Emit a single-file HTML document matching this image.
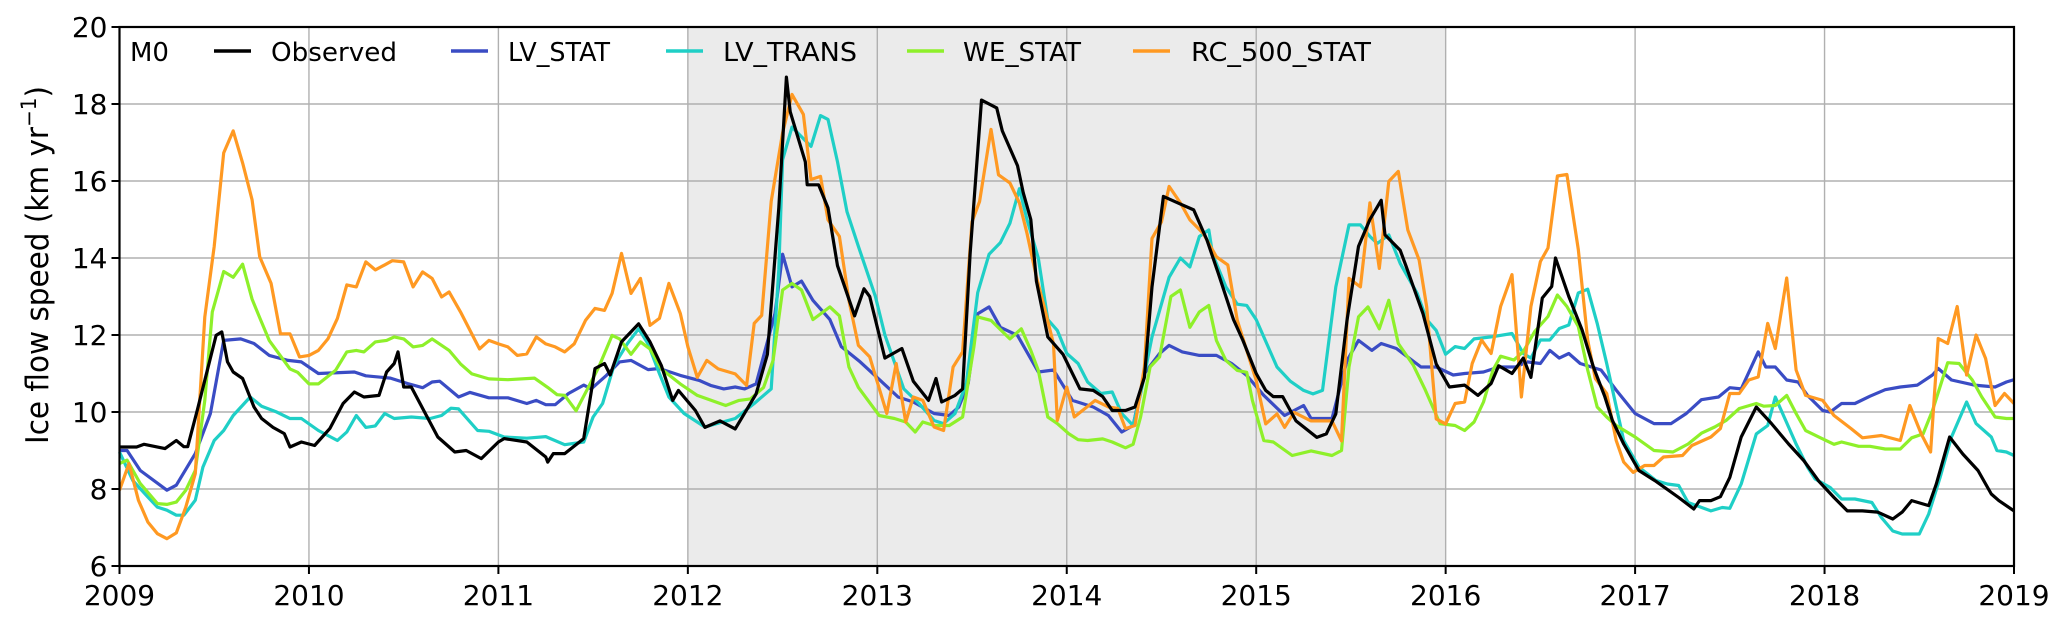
<!DOCTYPE html>
<html><head><meta charset="utf-8"><style>
html,body{margin:0;padding:0;background:#fff;}
svg{display:block;font-family:"DejaVu Sans","Liberation Sans",sans-serif;}
</style></head><body>
<svg id="chart" width="2067" height="623" viewBox="0 0 2067 623" xmlns="http://www.w3.org/2000/svg">
<rect x="0" y="0" width="2067" height="623" fill="#fff"/>
<g id="shade"></g><g id="grid"></g><g id="series"></g><g id="axes"></g><g id="legend"></g>
</svg>
<script>
const yearTicks=[2009,2010,2011,2012,2013,2014,2015,2016,2017,2018,2019];
const valueTicks=[6,8,10,12,14,16,18,20];
const shadeRange=[2012,2016];
const obsT=[2009.0,2009.09,2009.13,2009.24,2009.30,2009.34,2009.36,2009.41,2009.51,2009.54,2009.57,2009.60,2009.65,2009.71,2009.75,2009.81,2009.87,2009.90,2009.96,2010.03,2010.11,2010.18,2010.24,2010.29,2010.37,2010.41,2010.45,2010.47,2010.50,2010.54,2010.62,2010.68,2010.77,2010.83,2010.91,2011.0,2011.03,2011.15,2011.25,2011.26,2011.29,2011.35,2011.45,2011.51,2011.56,2011.59,2011.65,2011.74,2011.80,2011.86,2011.92,2011.95,2012.04,2012.09,2012.17,2012.25,2012.36,2012.42,2012.48,2012.52,2012.54,2012.62,2012.63,2012.69,2012.74,2012.79,2012.88,2012.93,2012.96,2013.04,2013.13,2013.19,2013.27,2013.31,2013.34,2013.41,2013.45,2013.49,2013.55,2013.63,2013.66,2013.74,2013.77,2013.81,2013.84,2013.90,2013.98,2014.07,2014.14,2014.19,2014.24,2014.31,2014.36,2014.41,2014.45,2014.51,2014.60,2014.67,2014.74,2014.80,2014.88,2014.93,2015.0,2015.05,2015.09,2015.14,2015.21,2015.32,2015.37,2015.42,2015.48,2015.54,2015.60,2015.66,2015.68,2015.76,2015.79,2015.83,2015.88,2015.95,2016.02,2016.10,2016.17,2016.24,2016.28,2016.35,2016.41,2016.45,2016.51,2016.56,2016.58,2016.65,2016.72,2016.78,2016.84,2016.88,2016.94,2017.02,2017.11,2017.23,2017.31,2017.34,2017.40,2017.45,2017.50,2017.56,2017.64,2017.72,2017.81,2017.89,2017.97,2018.05,2018.12,2018.20,2018.28,2018.36,2018.41,2018.46,2018.55,2018.59,2018.66,2018.73,2018.81,2018.88,2018.92,2019.0];
const obsV=[9.09,9.09,9.16,9.05,9.26,9.1,9.1,10.04,11.99,12.08,11.3,11.04,10.87,10.13,9.83,9.6,9.44,9.09,9.22,9.13,9.57,10.22,10.52,10.39,10.43,11.04,11.26,11.56,10.65,10.65,9.91,9.35,8.96,9.0,8.79,9.22,9.31,9.22,8.83,8.7,8.92,8.92,9.31,11.13,11.26,10.96,11.82,12.29,11.82,11.21,10.3,10.56,10.04,9.6,9.77,9.56,10.47,11.5,15.3,18.7,17.8,16.5,15.9,15.9,15.3,13.8,12.5,13.2,13.0,11.4,11.65,10.8,10.3,10.87,10.26,10.43,10.6,14.1,18.1,17.9,17.3,16.4,15.7,15.0,13.4,11.95,11.5,10.6,10.56,10.4,10.04,10.04,10.13,10.9,13.25,15.6,15.4,15.25,14.47,13.6,12.4,11.86,11.0,10.56,10.4,10.4,9.77,9.34,9.43,9.95,12.4,14.3,15.0,15.5,14.6,14.2,13.8,13.25,12.56,11.25,10.65,10.7,10.43,10.74,11.2,11.0,11.4,10.9,12.96,13.26,14.0,13.0,12.13,11.17,10.4,9.78,9.17,8.48,8.2,7.78,7.48,7.7,7.7,7.8,8.3,9.35,10.13,9.7,9.17,8.74,8.2,7.78,7.43,7.43,7.4,7.22,7.4,7.7,7.57,8.13,9.35,8.91,8.48,7.87,7.7,7.43];
const lvsT=[2009.0,2009.04,2009.11,2009.25,2009.30,2009.40,2009.48,2009.55,2009.64,2009.71,2009.79,2009.89,2009.96,2010.05,2010.24,2010.30,2010.43,2010.52,2010.60,2010.65,2010.69,2010.79,2010.85,2010.95,2011.05,2011.15,2011.20,2011.25,2011.30,2011.37,2011.45,2011.49,2011.57,2011.64,2011.70,2011.79,2011.85,2011.96,2012.06,2012.12,2012.19,2012.25,2012.30,2012.36,2012.46,2012.50,2012.55,2012.60,2012.66,2012.75,2012.81,2012.91,2013.02,2013.11,2013.19,2013.30,2013.38,2013.43,2013.48,2013.53,2013.59,2013.65,2013.74,2013.85,2013.93,2014.03,2014.14,2014.22,2014.29,2014.35,2014.41,2014.49,2014.54,2014.61,2014.70,2014.79,2014.87,2014.95,2015.04,2015.15,2015.25,2015.29,2015.40,2015.48,2015.54,2015.61,2015.66,2015.74,2015.87,2015.95,2016.04,2016.10,2016.20,2016.28,2016.37,2016.43,2016.50,2016.55,2016.60,2016.65,2016.71,2016.82,2016.90,2017.0,2017.10,2017.19,2017.27,2017.35,2017.44,2017.50,2017.56,2017.65,2017.69,2017.74,2017.80,2017.86,2017.91,2017.99,2018.03,2018.09,2018.16,2018.24,2018.32,2018.40,2018.49,2018.57,2018.60,2018.67,2018.79,2018.90,2018.96,2019.0];
const lvsV=[9.0,9.0,8.48,7.97,8.1,8.92,9.96,11.86,11.9,11.78,11.47,11.34,11.3,11.0,11.04,10.94,10.88,10.74,10.63,10.78,10.8,10.39,10.51,10.37,10.37,10.22,10.3,10.19,10.19,10.48,10.7,10.6,10.95,11.3,11.34,11.1,11.13,10.95,10.82,10.69,10.6,10.65,10.6,10.73,12.56,14.1,13.25,13.4,12.9,12.4,11.7,11.3,10.8,10.39,10.26,9.96,9.91,10.13,10.74,12.55,12.73,12.2,11.99,11.04,11.09,10.3,10.13,9.91,9.48,9.65,11.0,11.52,11.73,11.56,11.47,11.47,11.26,10.95,10.43,9.91,10.17,9.83,9.83,11.34,11.86,11.6,11.78,11.65,11.17,11.17,10.96,11.0,11.04,11.17,11.17,11.3,11.26,11.6,11.4,11.52,11.26,11.09,10.57,9.96,9.7,9.7,9.96,10.32,10.39,10.63,10.6,11.56,11.17,11.17,10.83,10.78,10.43,10.04,10.0,10.22,10.22,10.41,10.58,10.65,10.7,10.96,11.13,10.83,10.7,10.65,10.78,10.84];
const lvtT=[2009.0,2009.07,2009.15,2009.20,2009.25,2009.30,2009.34,2009.40,2009.44,2009.50,2009.55,2009.60,2009.69,2009.75,2009.83,2009.90,2009.96,2010.05,2010.15,2010.20,2010.25,2010.30,2010.35,2010.40,2010.45,2010.54,2010.64,2010.70,2010.75,2010.79,2010.89,2010.95,2011.03,2011.15,2011.25,2011.35,2011.45,2011.50,2011.55,2011.61,2011.68,2011.74,2011.79,2011.85,2011.90,2011.98,2012.09,2012.25,2012.35,2012.44,2012.48,2012.50,2012.55,2012.65,2012.70,2012.74,2012.79,2012.84,2012.90,2012.99,2013.04,2013.14,2013.22,2013.30,2013.35,2013.41,2013.47,2013.53,2013.59,2013.65,2013.70,2013.75,2013.79,2013.85,2013.90,2013.95,2014.0,2014.06,2014.11,2014.18,2014.24,2014.29,2014.35,2014.39,2014.45,2014.54,2014.60,2014.65,2014.70,2014.75,2014.77,2014.84,2014.90,2014.95,2015.0,2015.11,2015.18,2015.25,2015.30,2015.35,2015.42,2015.49,2015.55,2015.60,2015.64,2015.70,2015.76,2015.85,2015.90,2015.95,2016.0,2016.05,2016.10,2016.15,2016.24,2016.35,2016.41,2016.45,2016.50,2016.55,2016.60,2016.65,2016.70,2016.75,2016.80,2016.85,2016.94,2017.02,2017.11,2017.17,2017.23,2017.28,2017.40,2017.46,2017.50,2017.56,2017.64,2017.70,2017.74,2017.85,2017.91,2017.95,2018.03,2018.09,2018.16,2018.25,2018.30,2018.36,2018.41,2018.50,2018.55,2018.61,2018.67,2018.75,2018.80,2018.88,2018.91,2018.96,2019.0];
const lvtV=[8.96,8.22,7.79,7.53,7.45,7.32,7.32,7.71,8.57,9.26,9.52,9.91,10.39,10.15,10.0,9.83,9.83,9.52,9.26,9.48,9.91,9.6,9.64,9.96,9.83,9.87,9.83,9.91,10.1,10.08,9.52,9.5,9.35,9.32,9.36,9.15,9.22,9.87,10.22,11.21,11.77,12.16,11.77,11.0,10.39,9.96,9.61,9.83,10.22,10.6,13.7,16.55,17.4,16.9,17.7,17.6,16.5,15.2,14.3,13.0,12.0,10.6,10.22,9.78,9.7,9.96,10.74,13.1,14.1,14.4,14.9,15.8,15.0,14.0,12.4,12.12,11.52,11.26,10.78,10.48,10.52,9.96,9.65,10.47,11.95,13.5,14.0,13.77,14.56,14.73,14.1,13.25,12.8,12.77,12.4,11.17,10.8,10.56,10.47,10.56,13.25,14.86,14.86,14.56,14.38,14.6,13.86,13.08,12.4,12.12,11.5,11.7,11.65,11.9,11.95,12.04,11.52,11.4,11.87,11.87,12.17,12.26,13.09,13.19,12.3,11.26,9.26,8.57,8.22,8.13,8.09,7.65,7.43,7.52,7.5,8.13,9.43,9.65,10.39,9.17,8.57,8.26,8.04,7.74,7.74,7.65,7.26,6.91,6.83,6.83,7.35,8.3,9.35,10.26,9.7,9.35,9.0,8.96,8.87];
const weT=[2009.0,2009.04,2009.11,2009.20,2009.25,2009.30,2009.35,2009.40,2009.45,2009.49,2009.55,2009.60,2009.65,2009.70,2009.74,2009.79,2009.90,2009.94,2010.0,2010.05,2010.14,2010.20,2010.25,2010.29,2010.35,2010.41,2010.45,2010.50,2010.55,2010.60,2010.65,2010.74,2010.80,2010.86,2010.95,2011.05,2011.19,2011.26,2011.31,2011.35,2011.41,2011.46,2011.53,2011.60,2011.64,2011.70,2011.75,2011.80,2011.86,2011.96,2012.05,2012.20,2012.27,2012.33,2012.40,2012.45,2012.50,2012.55,2012.60,2012.66,2012.75,2012.80,2012.85,2012.90,2013.01,2013.09,2013.15,2013.20,2013.24,2013.30,2013.38,2013.45,2013.51,2013.53,2013.60,2013.70,2013.76,2013.81,2013.85,2013.90,2013.95,2014.01,2014.06,2014.11,2014.19,2014.24,2014.31,2014.35,2014.39,2014.44,2014.49,2014.55,2014.60,2014.65,2014.70,2014.75,2014.79,2014.84,2014.90,2014.95,2014.98,2015.04,2015.09,2015.19,2015.29,2015.40,2015.45,2015.49,2015.54,2015.59,2015.65,2015.70,2015.75,2015.83,2015.89,2015.97,2016.05,2016.10,2016.15,2016.20,2016.25,2016.29,2016.36,2016.41,2016.47,2016.54,2016.59,2016.64,2016.70,2016.75,2016.80,2016.85,2016.90,2017.0,2017.10,2017.20,2017.28,2017.35,2017.42,2017.48,2017.55,2017.64,2017.68,2017.74,2017.80,2017.85,2017.90,2017.97,2018.05,2018.09,2018.18,2018.24,2018.32,2018.40,2018.46,2018.52,2018.57,2018.65,2018.71,2018.78,2018.83,2018.90,2018.96,2019.0];
const weV=[8.66,8.75,8.14,7.62,7.6,7.66,7.97,8.48,10.3,12.6,13.65,13.5,13.84,12.93,12.45,11.86,11.12,11.03,10.73,10.73,11.08,11.56,11.6,11.56,11.82,11.86,11.95,11.9,11.69,11.73,11.9,11.6,11.25,10.99,10.86,10.84,10.88,10.64,10.45,10.43,10.03,10.5,11.17,11.99,11.9,11.5,11.82,11.64,11.12,10.73,10.43,10.17,10.3,10.34,10.64,11.34,13.17,13.34,13.17,12.4,12.73,12.5,11.17,10.64,9.91,9.83,9.74,9.48,9.74,9.65,9.65,9.87,11.69,12.47,12.38,11.9,12.16,11.6,11.08,9.87,9.7,9.44,9.28,9.26,9.3,9.22,9.07,9.16,9.87,11.17,11.43,13.0,13.17,12.2,12.6,12.77,11.86,11.34,11.08,11.03,10.3,9.26,9.22,8.87,8.99,8.87,9.0,11.17,12.47,12.73,12.16,12.9,11.78,11.21,10.6,9.7,9.65,9.52,9.74,10.26,11.09,11.45,11.35,11.57,12.09,12.48,13.04,12.74,12.22,11.09,10.13,9.87,9.65,9.35,9.0,8.96,9.17,9.45,9.61,9.78,10.09,10.22,10.15,10.17,10.43,9.96,9.52,9.35,9.16,9.22,9.11,9.11,9.04,9.04,9.33,9.43,10.04,11.28,11.26,10.83,10.39,9.87,9.83,9.83];
const rcT=[2009.0,2009.05,2009.10,2009.15,2009.20,2009.25,2009.30,2009.35,2009.40,2009.45,2009.50,2009.55,2009.60,2009.65,2009.70,2009.74,2009.80,2009.85,2009.90,2009.95,2010.0,2010.05,2010.10,2010.15,2010.20,2010.25,2010.30,2010.35,2010.40,2010.44,2010.50,2010.55,2010.60,2010.65,2010.70,2010.74,2010.80,2010.85,2010.90,2010.95,2011.0,2011.05,2011.10,2011.15,2011.20,2011.25,2011.30,2011.35,2011.40,2011.46,2011.51,2011.56,2011.60,2011.65,2011.70,2011.75,2011.80,2011.85,2011.90,2011.96,2012.0,2012.05,2012.10,2012.16,2012.25,2012.31,2012.35,2012.39,2012.44,2012.50,2012.55,2012.61,2012.65,2012.70,2012.74,2012.80,2012.85,2012.90,2012.96,2013.05,2013.10,2013.15,2013.19,2013.24,2013.30,2013.35,2013.40,2013.45,2013.50,2013.54,2013.60,2013.64,2013.70,2013.75,2013.79,2013.84,2013.89,2013.93,2013.95,2014.0,2014.04,2014.15,2014.22,2014.27,2014.31,2014.36,2014.41,2014.45,2014.50,2014.54,2014.60,2014.65,2014.72,2014.79,2014.85,2014.90,2014.95,2015.0,2015.05,2015.11,2015.15,2015.20,2015.29,2015.40,2015.45,2015.49,2015.55,2015.60,2015.65,2015.70,2015.75,2015.80,2015.86,2015.90,2015.95,2016.0,2016.05,2016.10,2016.14,2016.19,2016.24,2016.29,2016.35,2016.40,2016.45,2016.50,2016.54,2016.59,2016.64,2016.70,2016.75,2016.79,2016.85,2016.90,2016.94,2016.99,2017.05,2017.10,2017.15,2017.25,2017.30,2017.40,2017.45,2017.50,2017.55,2017.60,2017.65,2017.70,2017.74,2017.80,2017.85,2017.90,2017.99,2018.05,2018.14,2018.20,2018.30,2018.40,2018.45,2018.51,2018.56,2018.60,2018.65,2018.70,2018.75,2018.80,2018.85,2018.90,2018.95,2019.0];
const rcV=[7.97,8.66,7.71,7.14,6.84,6.71,6.86,7.53,8.4,12.47,14.3,16.73,17.3,16.47,15.51,14.03,13.34,12.03,12.03,11.43,11.47,11.6,11.9,12.43,13.3,13.25,13.9,13.69,13.82,13.93,13.9,13.25,13.64,13.47,12.99,13.12,12.6,12.12,11.64,11.86,11.77,11.69,11.47,11.51,11.95,11.77,11.69,11.56,11.77,12.38,12.69,12.64,13.08,14.12,13.08,13.47,12.25,12.43,13.34,12.56,11.69,10.9,11.34,11.12,10.99,10.69,12.3,12.51,15.47,17.25,18.25,17.73,16.04,16.12,14.99,14.56,12.9,11.73,11.43,9.96,11.26,9.74,10.39,10.3,9.61,9.52,11.17,11.56,14.94,15.47,17.34,16.16,15.95,15.43,14.64,13.51,12.56,11.77,9.78,10.65,9.87,10.3,10.13,10.09,9.57,9.65,11.17,14.51,14.94,15.86,15.43,14.99,14.64,14.03,13.82,12.38,11.6,10.82,9.69,9.95,9.6,9.99,9.77,9.77,9.25,13.47,13.25,15.43,13.73,15.99,16.25,14.73,13.95,12.73,9.82,9.69,10.22,10.26,11.26,11.87,11.52,12.74,13.57,10.39,12.74,13.91,14.26,16.13,16.17,14.22,11.87,10.87,10.48,9.26,8.7,8.43,8.61,8.61,8.83,8.87,9.13,9.35,9.57,10.48,10.48,10.83,10.91,12.3,11.65,13.48,11.09,10.43,10.3,9.91,9.57,9.33,9.39,9.26,10.17,9.43,8.96,11.91,11.78,12.74,10.96,12.0,11.39,10.17,10.48,10.22];

const NS='http://www.w3.org/2000/svg';
const L=119.5,R=2014,T=27,B=566;
function xs(t){return L+(t-2009)/(2019-2009)*(R-L);}
function ys(v){return B-(v-6)/(20-6)*(B-T);}
function mk(tag,attrs,parent){const e=document.createElementNS(NS,tag);for(const k in attrs)e.setAttribute(k,attrs[k]);parent.appendChild(e);return e;}

const shade=document.getElementById('shade');
const sr=mk('rect',{x:xs(shadeRange[0]),y:T,width:xs(shadeRange[1])-xs(shadeRange[0]),height:B-T,fill:'#ebebeb'},shade);



const grid=document.getElementById('grid');
yearTicks.forEach(t=>{
  const g=mk('line',{x1:xs(t),x2:xs(t),y1:T,y2:B,stroke:'#b0b0b0','stroke-width':1.4},grid);
  
  
});
valueTicks.forEach(v=>{
  const g=mk('line',{x1:L,x2:R,y1:ys(v),y2:ys(v),stroke:'#b0b0b0','stroke-width':1.4},grid);
  
  
});

const seriesG=document.getElementById('series');
const seriesList=[
  ['lv-stat-line',lvsT,lvsV,'#3a4cc4'],
  ['lv-trans-line',lvtT,lvtV,'#1fcfc6'],
  ['we-stat-line',weT,weV,'#8ef02a'],
  ['rc-500-stat-line',rcT,rcV,'#ff9922'],
  ['observed-line',obsT,obsV,'#000000']
];
seriesList.forEach(s=>{
  const d=s[1].map((t,i)=>(i?'L':'M')+xs(t).toFixed(1)+','+ys(s[2][i]).toFixed(1)).join(' ');
  const p=mk('path',{d:d,fill:'none',stroke:s[3],'stroke-width':3.2,'stroke-linejoin':'round'},seriesG);
  
  
});

const axes=document.getElementById('axes');
const frame=mk('rect',{x:L,y:T,width:R-L,height:B-T,fill:'none',stroke:'#000','stroke-width':2.2},axes);


yearTicks.forEach(t=>{
  const tk=mk('line',{x1:xs(t),x2:xs(t),y1:B,y2:B+8,stroke:'#000','stroke-width':2},axes);
  
  
  const lb=mk('text',{x:xs(t),y:605,'text-anchor':'middle','font-size':28,fill:'#000'},axes);
  lb.textContent=t;
  
  
});
valueTicks.forEach(v=>{
  const tk=mk('line',{x1:L-8,x2:L,y1:ys(v),y2:ys(v),stroke:'#000','stroke-width':2},axes);
  
  
  const lb=mk('text',{x:L-12,y:ys(v)+10,'text-anchor':'end','font-size':28,fill:'#000'},axes);
  lb.textContent=v;
  
  
});
const yt=mk('text',{x:0,y:0,transform:'translate(48,265) rotate(-90)','text-anchor':'middle','font-size':31,fill:'#000',textLength:358,lengthAdjust:'spacingAndGlyphs'},axes);
yt.innerHTML='Ice flow speed (km yr<tspan dy="-12" font-size="21">−1</tspan><tspan dy="12">)</tspan>';



const lg=document.getElementById('legend');
const m0=mk('text',{x:130,y:61,'font-size':26,fill:'#000'},lg);
m0.textContent='M0';


const legendItems=[
  ['legend-observed','Observed','#000000',214,271,126],
  ['legend-lv-stat','LV_STAT','#3a4cc4',451,508,102],
  ['legend-lv-trans','LV_TRANS','#1fcfc6',666,723,134],
  ['legend-we-stat','WE_STAT','#8ef02a',907,963,118],
  ['legend-rc-500-stat','RC_500_STAT','#ff9922',1133,1191,180]
];
legendItems.forEach(it=>{
  const g=mk('g',{},lg);
  
  
  mk('line',{x1:it[3],x2:it[3]+37,y1:51,y2:51,stroke:it[2],'stroke-width':3.4},g);
  const tx=mk('text',{x:it[4],y:61,'font-size':26,fill:'#000',textLength:it[5],lengthAdjust:'spacingAndGlyphs'},g);
  tx.textContent=it[1];
});
</script>
</body></html>
